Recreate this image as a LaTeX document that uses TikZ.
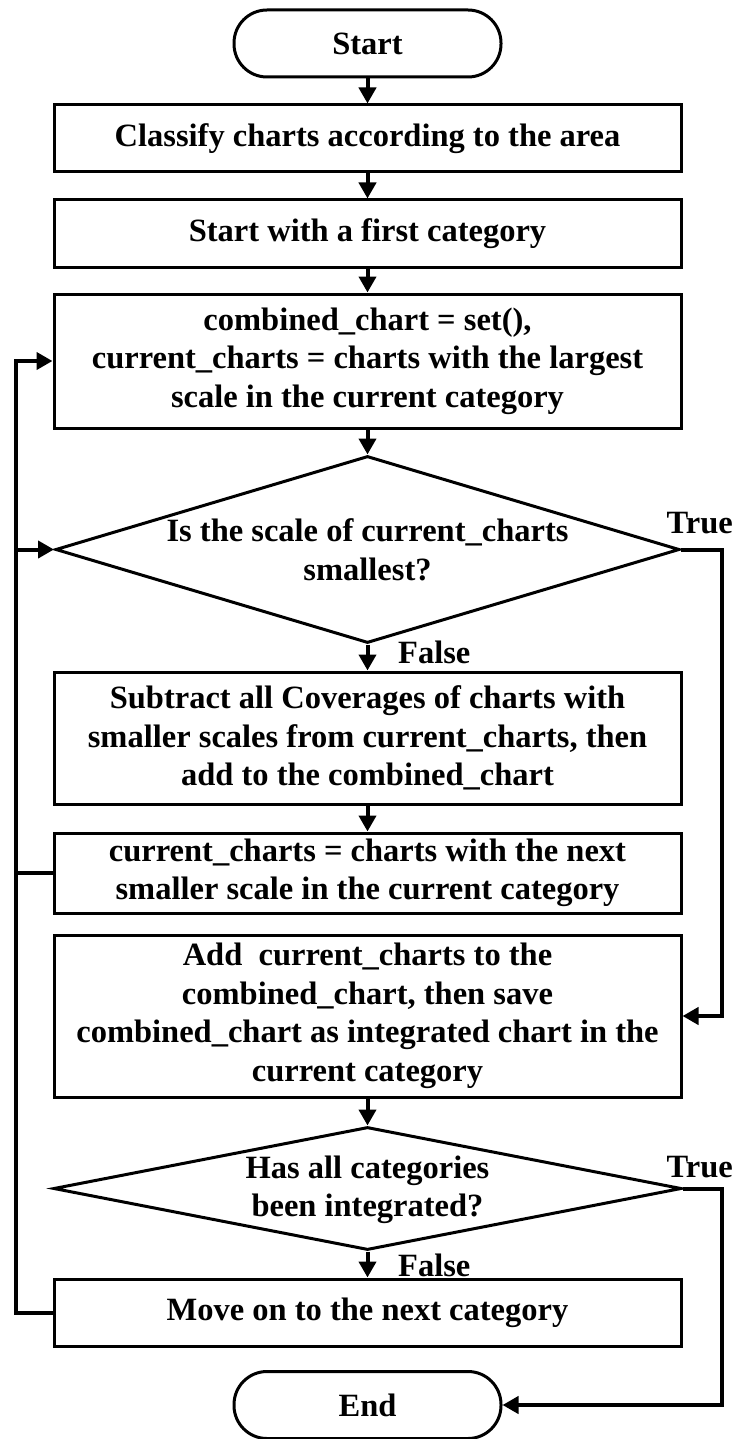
\documentclass[tikz,border=0pt]{standalone}
\usepackage{fontspec}
\setmainfont{Liberation Serif}
\usetikzlibrary{arrows.meta,shapes.geometric}

\begin{document}
\begin{tikzpicture}[x=1pt,y=-1pt,
  txt/.style={font=\fontsize{32.5}{38.5}\selectfont\bfseries, align=center},
  procbox/.style={draw, line width=3pt, rectangle, minimum width=627pt, inner sep=0pt, txt},
  term/.style={draw, line width=3pt, rectangle, rounded corners=33pt, minimum width=267pt, minimum height=67pt, txt},
  decide/.style={draw, line width=3pt, diamond, inner sep=0pt},
  flow/.style={line width=4pt, -{Triangle[length=16pt,width=17pt]}},
  tag/.style={txt, inner sep=0pt}]

% page frame
\path[fill=white, use as bounding box] (0,0) rectangle (734,1439);

% main column
\node[term] (start) at (367.5,43.5) {Start};
\node[procbox, minimum height=67pt] (b1) at (367.5,138.5) {Classify charts according to the area};
\node[procbox, minimum height=67pt] (b2) at (367.5,233.5) {Start with a first category};
\node[procbox, minimum height=134pt] (b3) at (367.5,361)
  {combined\_chart = set(),\\current\_charts = charts with the largest\\scale in the current category};
\node[decide, minimum width=624pt, minimum height=187pt] (d1) at (367.5,549.5) {};
\node[tag] (d1t) at (367.5,550) {Is the scale of current\_charts\\smallest?};
\node[tag, anchor=west] (d1f) at (398,652) {False};
\node[tag, anchor=east] (d1tr) at (733,523) {True};
\node[procbox, minimum height=132pt] (b4) at (367.5,738)
  {Subtract all Coverages of charts with\\smaller scales from current\_charts, then\\add to the combined\_chart};
\node[procbox, minimum height=80pt] (b5) at (367.5,873)
  {current\_charts = charts with the next\\smaller scale in the current category};
\node[procbox, minimum height=162pt] (b6) at (367.5,1016)
  {Add\ \ current\_charts to the\\combined\_chart, then save\\combined\_chart as integrated chart in the\\current category};
\node[decide, minimum width=628pt, minimum height=123pt] (d2) at (367.5,1188.5) {};
\node[tag] (d2t) at (367.5,1190) {Has all categories\\been integrated?};
\node[tag, anchor=west] (d2f) at (398,1265) {False};
\node[tag, anchor=east] (d2tr) at (733,1167) {True};
\node[procbox, minimum height=67pt] (b7) at (367.5,1312.5) {Move on to the next category};
\node[term] (end) at (367.5,1405) {End};

% return lines
\coordinate (lx) at (16,0);
\coordinate (rx) at (722,0);

% straight flow
\draw[flow] (start) -- (b1);
\draw[flow] (b1) -- (b2);
\draw[flow] (b2) -- (b3);
\draw[flow] (b3.south) -- (d1.north);
\draw[flow] (d1.south) -- (b4.north);
\draw[flow] (b4) -- (b5);
\draw[flow] (b6.south) -- (d2.north);
\draw[flow] (d2.south) -- (b7.north);

% loops on the left
\draw[flow] (b7.west) -- (b7.west -| lx) -- (b3.west -| lx) -- (b3.west);
\draw[flow] (b5.west) -- (b5.west -| lx) |- (d1.west);

% exits on the right
\draw[flow] (d1.east) -- (d1.east -| rx) |- (b6.east);
\draw[flow] (d2.east) -- (d2.east -| rx) |- (end.east);
\end{tikzpicture}
\end{document}
